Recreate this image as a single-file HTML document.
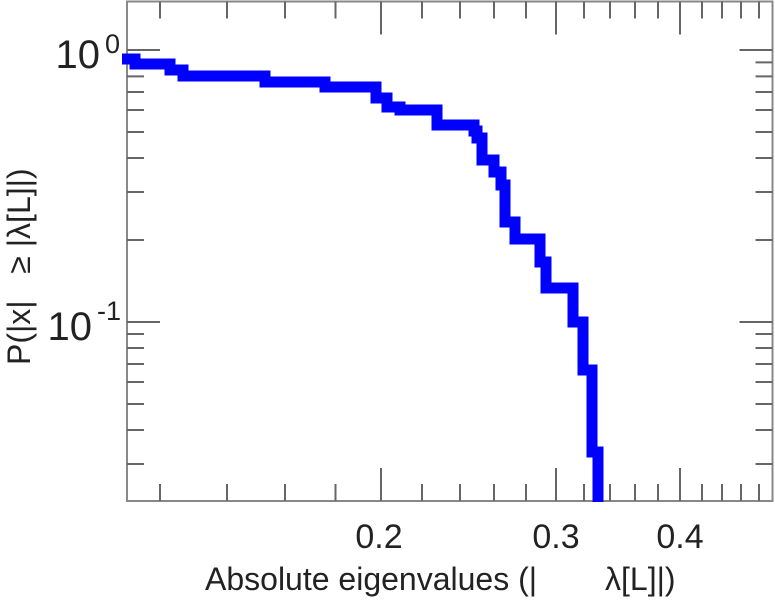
<!DOCTYPE html>
<html><head><meta charset="utf-8"><style>html,body{margin:0;padding:0;background:#fff}svg{display:block}</style></head>
<body>
<svg width="775" height="600" viewBox="0 0 775 600" xmlns="http://www.w3.org/2000/svg" font-family="Liberation Sans, sans-serif" fill="#222">
<g stroke="#666" stroke-width="2" fill="none">
<rect x="127" y="1.5" width="645.5" height="499.5" stroke="#888"/>
<path d="M381 501v-33M556 501v-33M680 501v-33M381 1.5v33M556 1.5v33M680 1.5v33"/>
<path d="M160 501v-17M227 501v-17M285 501v-17M335.5 501v-17M422 501v-17M460 501v-17M494 501v-17M526 501v-17M584 501v-17M610 501v-17M635 501v-17M658 501v-17M702 501v-17M722 501v-17M741 501v-17M759 501v-17
M160 1.5v17M227 1.5v17M285 1.5v17M335.5 1.5v17M422 1.5v17M460 1.5v17M494 1.5v17M526 1.5v17M584 1.5v17M610 1.5v17M635 1.5v17M658 1.5v17M702 1.5v17M722 1.5v17M741 1.5v17M759 1.5v17"/>
<path d="M127 50h33M127 322h33M772.5 50h-33M772.5 322h-33"/>
<path d="M127 62.4h17M127 76.4h17M127 92h17M127 110h17M127 132h17M127 158h17M127 192h17M127 240h17M127 334h17M127 348h17M127 364h17M127 382h17M127 404h17M127 430h17M127 464h17
M772.5 62.4h-17M772.5 76.4h-17M772.5 92h-17M772.5 110h-17M772.5 132h-17M772.5 158h-17M772.5 192h-17M772.5 240h-17M772.5 334h-17M772.5 348h-17M772.5 364h-17M772.5 382h-17M772.5 404h-17M772.5 430h-17M772.5 464h-17"/>
</g>
<polyline fill="none" stroke="#0000ff" stroke-width="11" stroke-linejoin="miter" stroke-linecap="butt"
points="122,59 135,59 135,64 170,64 170,70 183,70 183,76 265,76 265,82 325,82 325,87 376,87 376,98 387,98 387,107 400,107 400,110 437,110 437,125 474,125 474,131 477,131 477,138 482,138 482,160 494,160 494,172 501,172 501,185 505,185 505,222 515,222 515,239 540,239 540,262 546,262 546,288 573,288 573,322 583,322 583,370 592,370 592,452 598,452 598,502"/>
<g font-size="40">
<text x="100" y="68" text-anchor="end">10</text>
<text x="92" y="340" text-anchor="end">10</text>
</g>
<g font-size="27">
<text x="105" y="53">0</text>
<text x="97" y="320">-1</text>
</g>
<g font-size="34" text-anchor="middle">
<text x="379" y="548">0.2</text>
<text x="556" y="548">0.3</text>
<text x="680" y="548">0.4</text>
</g>
<g font-size="32">
<text x="205" y="590" xml:space="preserve">Absolute eigenvalues (|</text>
<text x="605" y="590">λ[L]|)</text>
<text transform="translate(30,365) rotate(-90)" xml:space="preserve">P(|x|   ≥ |λ[L]|)</text>
</g>
</svg>
</body></html>
